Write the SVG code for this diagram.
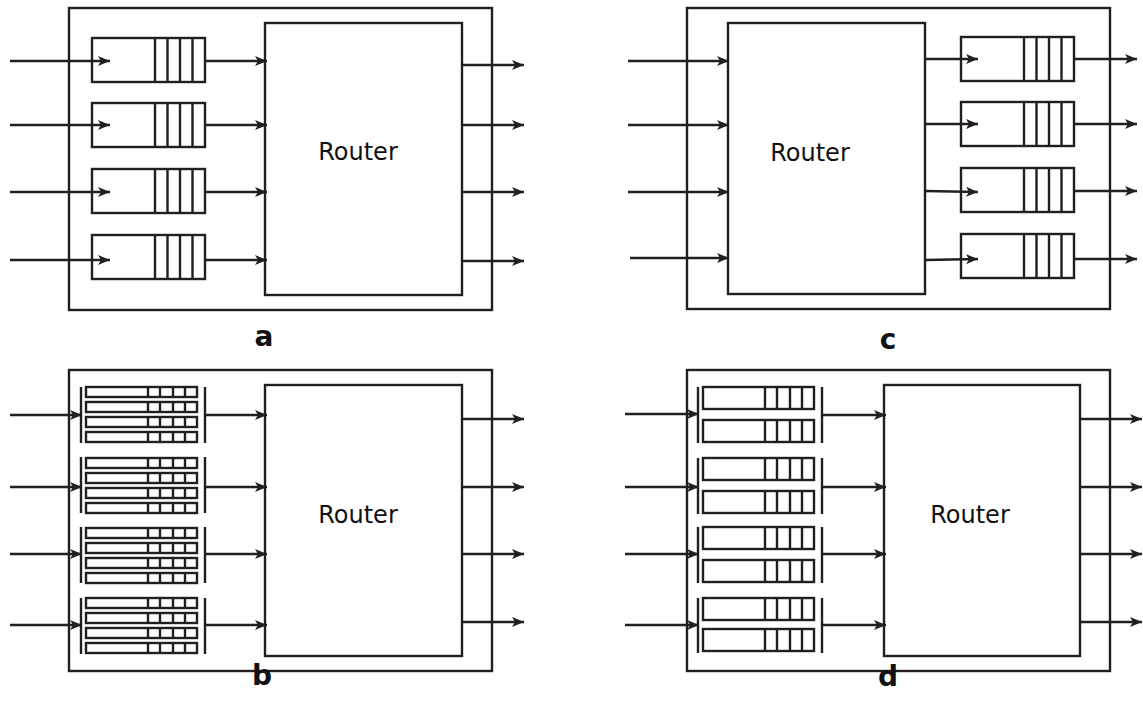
<svg xmlns="http://www.w3.org/2000/svg" xmlns:xlink="http://www.w3.org/1999/xlink" width="1143" height="716" viewBox="0 0 1143 716">
<style>
.b{fill:none;stroke:#231f20;stroke-width:2.4}
.c{fill:none;stroke:#231f20;stroke-width:2.4}
.t{font-family:"DejaVu Sans",sans-serif;font-size:24px;fill:#111;text-anchor:middle}
.l{font-family:"DejaVu Sans",sans-serif;font-size:28px;font-weight:bold;fill:#111;text-anchor:middle}
</style>
<defs>
<marker id="ar" markerUnits="userSpaceOnUse" markerWidth="14" markerHeight="12" refX="12" refY="5" orient="auto">
<path d="M0,0 L12,5 L0,10 L3,5 z" fill="#231f20"/>
</marker>
<g id="qa" class="b"><rect x="0" y="0" width="113" height="44"/><path d="M63,0V44M75.5,0V44M88,0V44M100.5,0V44"/></g>
<g id="qb" class="b"><rect x="0" y="0" width="111" height="10"/><path d="M62,0V10M74,0V10M87,0V10M99,0V10"/></g>
<g id="qd" class="b"><rect x="0" y="0" width="111" height="22"/><path d="M62,0V22M74,0V22M87,0V22M99,0V22"/></g>
</defs>
<rect width="1143" height="716" fill="#fff"/>

<g id="panel-a">
<rect class="b" x="69" y="8" width="423" height="302"/>
<g id="router-a"><rect class="b" x="265" y="23" width="197" height="272"/><text class="t" x="358" y="160">Router</text></g>
<g id="queues-a">
<use xlink:href="#qa" x="92" y="38"/>
<use xlink:href="#qa" x="92" y="103"/>
<use xlink:href="#qa" x="92" y="169"/>
<use xlink:href="#qa" x="92" y="235"/>
</g>
<text class="l" x="264" y="346">a</text>
</g>

<g id="panel-c">
<rect class="b" x="687" y="8" width="423" height="301"/>
<g id="router-c"><rect class="b" x="728" y="23" width="197" height="271"/><text class="t" x="810" y="161">Router</text></g>
<g id="queues-c">
<use xlink:href="#qa" x="961" y="37"/>
<use xlink:href="#qa" x="961" y="102"/>
<use xlink:href="#qa" x="961" y="168"/>
<use xlink:href="#qa" x="961" y="234"/>
</g>
<text class="l" x="888" y="349">c</text>
</g>

<g id="panel-b">
<rect class="b" x="69" y="370" width="423" height="301"/>
<g id="router-b"><rect class="b" x="265" y="385" width="197" height="271"/><text class="t" x="358" y="523">Router</text></g>
<g id="queues-b">
<g><path class="b" d="M81,387V443M205,387V443"/><use xlink:href="#qb" x="86" y="387"/><use xlink:href="#qb" x="86" y="402"/><use xlink:href="#qb" x="86" y="417"/><use xlink:href="#qb" x="86" y="432"/></g>
<g><path class="b" d="M81,457V513M205,457V513"/><use xlink:href="#qb" x="86" y="458"/><use xlink:href="#qb" x="86" y="473"/><use xlink:href="#qb" x="86" y="488"/><use xlink:href="#qb" x="86" y="503"/></g>
<g><path class="b" d="M81,527V583M205,527V583"/><use xlink:href="#qb" x="86" y="528"/><use xlink:href="#qb" x="86" y="543"/><use xlink:href="#qb" x="86" y="558"/><use xlink:href="#qb" x="86" y="573"/></g>
<g><path class="b" d="M81,598V654M205,598V654"/><use xlink:href="#qb" x="86" y="598"/><use xlink:href="#qb" x="86" y="613"/><use xlink:href="#qb" x="86" y="628"/><use xlink:href="#qb" x="86" y="643"/></g>
</g>
<text class="l" x="262" y="685">b</text>
</g>

<g id="panel-d">
<rect class="b" x="687" y="370" width="423" height="301"/>
<g id="router-d"><rect class="b" x="884" y="385" width="196" height="271"/><text class="t" x="970" y="523">Router</text></g>
<g id="queues-d">
<g><path class="b" d="M698,387V443M822,387V443"/><use xlink:href="#qd" x="703" y="387"/><use xlink:href="#qd" x="703" y="420"/></g>
<g><path class="b" d="M698,458V514M822,458V514"/><use xlink:href="#qd" x="703" y="458"/><use xlink:href="#qd" x="703" y="491"/></g>
<g><path class="b" d="M698,527V583M822,527V583"/><use xlink:href="#qd" x="703" y="527"/><use xlink:href="#qd" x="703" y="560"/></g>
<g><path class="b" d="M698,598V653M822,598V653"/><use xlink:href="#qd" x="703" y="598"/><use xlink:href="#qd" x="703" y="629"/></g>
</g>
<text class="l" x="888" y="686">d</text>
</g>

<g id="connectors" class="c" marker-end="url(#ar)">
<path d="M10,61H110"/><path d="M10,125H110"/><path d="M10,192H110"/><path d="M10,260H110"/>
<path d="M206,61H267"/><path d="M206,125H267"/><path d="M206,192H267"/><path d="M206,260H267"/>
<path d="M462,65H524"/><path d="M462,125H524"/><path d="M462,192H524"/><path d="M462,261H524"/>

<path d="M628,61H729"/><path d="M628,125H729"/><path d="M628,192H729"/><path d="M630,258H729"/>
<path d="M925,59H978"/><path d="M925,124H978"/><path d="M925,191L978,192"/><path d="M925,260L978,259"/>
<path d="M1074,59H1137"/><path d="M1074,124H1137"/><path d="M1074,191H1137"/><path d="M1074,259H1137"/>

<path d="M10,415H82"/><path d="M10,487H82"/><path d="M10,554H82"/><path d="M10,625H82"/>
<path d="M205,415H267"/><path d="M205,487H267"/><path d="M205,554H267"/><path d="M205,625H267"/>
<path d="M462,419H524"/><path d="M462,487H524"/><path d="M462,554H524"/><path d="M462,622H524"/>

<path d="M625,414H699"/><path d="M625,487H699"/><path d="M625,554H699"/><path d="M625,625H699"/>
<path d="M822,415H886"/><path d="M822,487H886"/><path d="M822,554H886"/><path d="M822,625H886"/>
<path d="M1080,419H1142"/><path d="M1080,487H1142"/><path d="M1080,554H1142"/><path d="M1080,622H1142"/>
</g>
</svg>
